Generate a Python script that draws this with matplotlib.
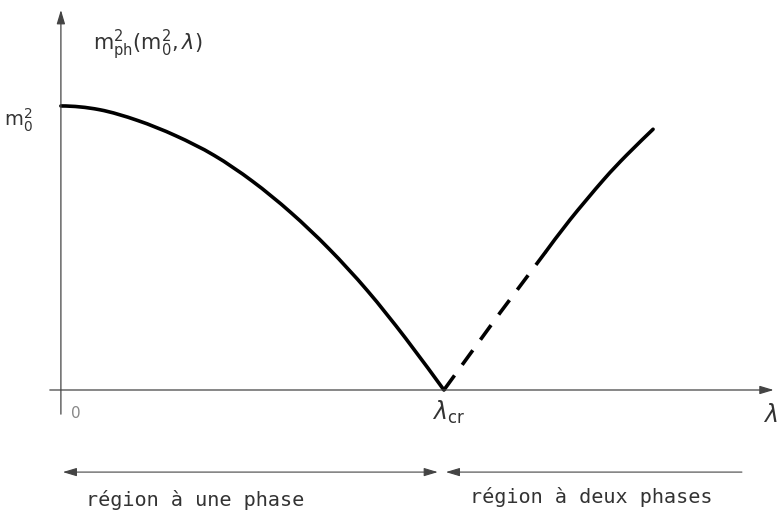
import matplotlib
matplotlib.use("Agg")
import matplotlib.pyplot as plt
from matplotlib.path import Path
from matplotlib.patches import PathPatch

plt.rcParams['font.family'] = ['DejaVu Sans']
plt.rcParams['mathtext.fontset'] = 'dejavusans'

# one phase branch, lambda in units of lambda_cr, mass in units of m0^2
lam_one = [0.0, 0.1, 0.2, 0.3, 0.4, 0.5, 0.6, 0.7, 0.8, 0.9, 1.0]
m_one = [1.0, 0.987, 0.949, 0.895, 0.826, 0.735, 0.625, 0.497, 0.350, 0.182, 0.0]

# two phase branch: dashed part then solid part
lam_dash = [1.0, 1.146, 1.266]
m_dash = [0.0, 0.271, 0.487]
lam_two = [1.266, 1.329, 1.416, 1.477, 1.546]
m_two = [0.487, 0.599, 0.739, 0.827, 0.918]

lam_cr = 1.0
m0_sq = 1.0


def smooth_path(xs, ys, flat_start=False):
    # catmull-rom through the points, as cubic bezier segments
    pts = list(zip(xs, ys))
    verts = [pts[0]]
    codes = [Path.MOVETO]
    for i in range(len(pts) - 1):
        if i == 0 and flat_start:
            # mirror the next point so the curve leaves the axis level
            p0 = (2 * pts[0][0] - pts[1][0], pts[1][1])
        else:
            p0 = pts[max(i - 1, 0)]
        p1 = pts[i]
        p2 = pts[i + 1]
        p3 = pts[min(i + 2, len(pts) - 1)]
        c1 = (p1[0] + (p2[0] - p0[0]) / 6, p1[1] + (p2[1] - p0[1]) / 6)
        c2 = (p2[0] - (p3[0] - p1[0]) / 6, p2[1] - (p3[1] - p1[1]) / 6)
        verts += [c1, c2, p2]
        codes += [Path.CURVE4] * 3
    return Path(verts, codes)


fig = plt.figure(figsize=(7.81, 5.11), dpi=100)
ax = fig.add_axes([0, 0, 1, 1])
ax.set_xlim(-0.159, 1.880)
ax.set_ylim(-0.426, 1.373)
ax.axis('off')

axis_col = '#444444'
arr = dict(arrowstyle='-|>,head_length=0.6,head_width=0.18', color=axis_col, lw=0.9,
           mutation_scale=14, shrinkA=0, shrinkB=0)

# axes with arrows
ax.annotate('', xy=(1.861, 0), xytext=(-0.029, 0), arrowprops=arr)
ax.annotate('', xy=(0, 1.338), xytext=(0, -0.085), arrowprops=arr)

# curves
ax.add_patch(PathPatch(smooth_path(lam_one, m_one, flat_start=True), fill=False,
                       edgecolor='black', lw=2.6, capstyle='round'))
ax.plot(lam_dash, m_dash, color='black', lw=2.6, ls=(0, (5, 3.6)))
ax.add_patch(PathPatch(smooth_path(lam_two, m_two), fill=False, edgecolor='black', lw=2.6,
                       capstyle='round'))

# region arrows below
y_reg = -0.289
reg_arr = dict(arrowstyle='<|-|>,head_length=0.6,head_width=0.18', color=axis_col, lw=0.8,
               mutation_scale=14, shrinkA=0, shrinkB=0)
ax.annotate('', xy=(0.005, y_reg), xytext=(0.984, y_reg), arrowprops=reg_arr)
ax.annotate('', xy=(1.005, y_reg), xytext=(1.778, y_reg),
            arrowprops=dict(reg_arr, arrowstyle='-|>,head_length=0.6,head_width=0.18'))

txt_col = '#333333'
ax.text(0.039, -0.081, '0', fontsize=11, color='#888888', ha='center', va='center')
ax.text(lam_cr + 0.013, -0.078, r'$\lambda_{\mathrm{cr}}$', fontsize=17, color=txt_col, ha='center', va='center')
ax.text(1.851, -0.088, r'$\lambda$', fontsize=17, color=txt_col, ha='center', va='center')
ax.text(-0.112, m0_sq - 0.05, r'$\mathrm{m}_0^2$', fontsize=14, color=txt_col, ha='center', va='center')
ax.text(0.226, 1.215, r'$\mathrm{m}^2_{\mathrm{ph}}(\mathrm{m}^2_0,\lambda)$', fontsize=15, color=txt_col,
        ha='center', va='center')

ax.text(0.350, -0.387, 'région à une phase', fontsize=14.5, family='DejaVu Sans Mono',
        color=txt_col, ha='center', va='center')
ax.text(1.384, -0.377, 'région à deux phases', fontsize=14.5, family='DejaVu Sans Mono',
        color=txt_col, ha='center', va='center')

fig.savefig('out.png', dpi=100)
